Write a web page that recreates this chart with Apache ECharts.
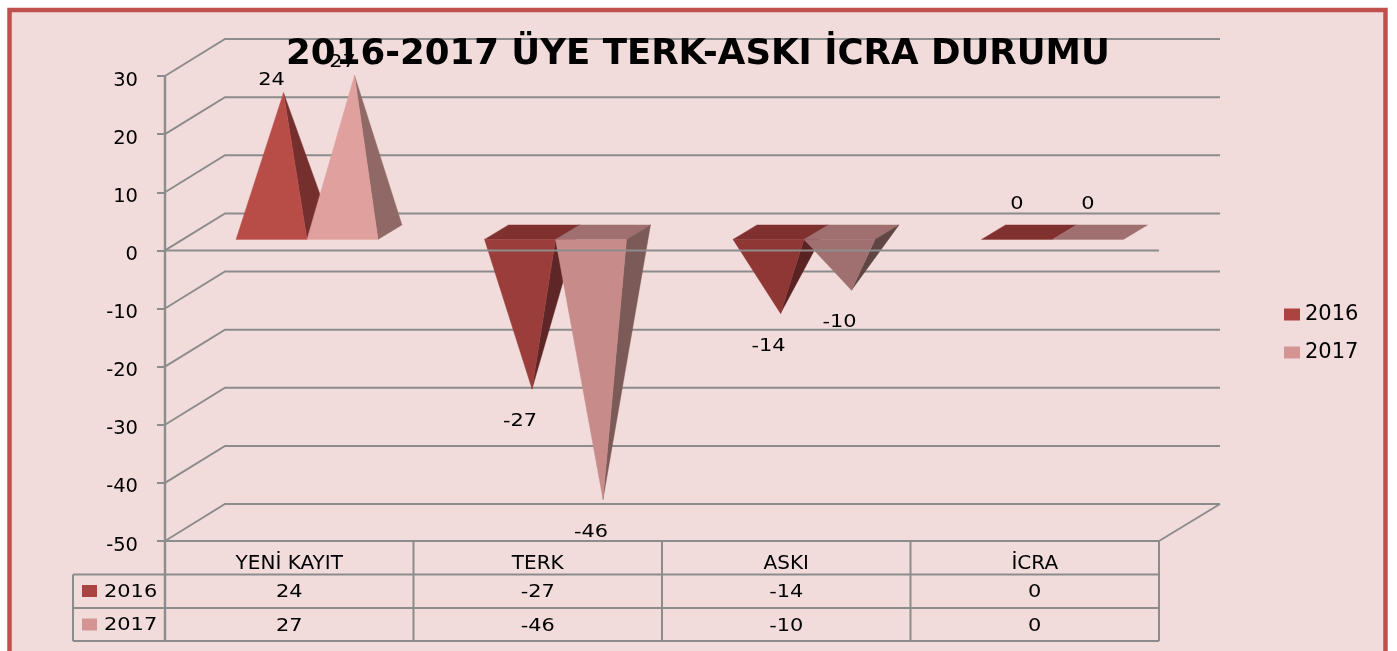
<!DOCTYPE html>
<html>
<head>
<meta charset="utf-8">
<style>html,body{margin:0;padding:0;background:#fff;overflow:hidden}#c{width:1397px;height:651px}</style>
<script src="https://cdn.jsdelivr.net/npm/echarts@6/dist/echarts.min.js"></script>
</head>
<body>
<div id="c"></div>
<script>
const titleText = '2016-2017 ÜYE TERK-ASKI İCRA DURUMU';
const categories = ['YENİ KAYIT', 'TERK', 'ASKI', 'İCRA'];
const seriesNames = ['2016', '2017'];
const values2016 = [24, -27, -14, 0];
const values2017 = [27, -46, -10, 0];
const yTicks = [30, 20, 10, 0, -10, -20, -30, -40, -50];

const legendColors = ['#AB4441', '#D49494'];
const frontColors = [
  ['#B84D48', '#9B3E3B', '#8E3735', '#80302F'],
  ['#E0A09E', '#C78C8A', '#A07070', '#A07070']
];
const sideColors = [
  ['#75302D', '#5E2626', '#5A2222', '#5A2222'],
  ['#906967', '#7C5A58', '#5F4644', '#5F4644']
];
const topColors = [
  ['#80302F', '#80302F', '#80302F', '#80302F'],
  ['#A07070', '#A07070', '#A07070', '#A07070']
];
const FONT = '"DejaVu Sans"';
const LINE = '#8C8C8C';
const WALL = { dx: 60, dy: -37 };
const PYR = { w: 71, fx: 17.75, fy: -11, dx: 24, dy: -14.5 };

const chart = echarts.init(document.getElementById('c'), null, { renderer: 'canvas' });

function line(points, width) {
  return { type: 'polyline', shape: { points }, style: { stroke: LINE, lineWidth: width || 2, fill: null } };
}
function poly(points, fill) {
  return { type: 'polygon', shape: { points }, style: { fill, stroke: fill, lineWidth: 0.4 } };
}
function label(x, y, text, size, align) {
  return { type: 'text', x, y, scaleX: 1.13, style: { x: 0, y: 0, text, fill: '#000', font: (size || 18.5) + 'px ' + FONT, align: align || 'center', verticalAlign: 'middle' } };
}

function renderWall(params, api) {
  const rect = params.coordSys;
  const t = api.value(1);
  const y = api.coord([0, t])[1];
  const L = rect.x, R = rect.x + rect.width;
  const children = [line([[L, y], [L + WALL.dx, y + WALL.dy], [R + WALL.dx + 1, y + WALL.dy]])];
  if (t === yTicks[yTicks.length - 1]) children.push(line([[R, y], [R + WALL.dx + 1, y + WALL.dy]]));
  return { type: 'group', children };
}

function renderPyramid(si) {
  return function (params, api) {
    const cat = api.value(0), val = api.value(1);
    const c0 = api.coord([cat, 0]), cv = api.coord([cat, val]);
    const x0 = c0[0] + PYR.fx + (si - 1) * PYR.w, x1 = x0 + PYR.w;
    const yf = c0[1] + PYR.fy, yb = yf + PYR.dy;
    const apex = [(x0 + x1) / 2 + PYR.dx / 2, cv[1] + PYR.fy + PYR.dy / 2];
    const children = [];
    if (val <= 0) {
      children.push(poly([[x0, yf], [x1, yf], [x1 + PYR.dx, yb], [x0 + PYR.dx, yb]], topColors[si][cat]));
    }
    if (val !== 0) {
      children.push(poly([[x1, yf], [x1 + PYR.dx, yb], apex], sideColors[si][cat]));
      children.push(poly([[x0, yf], [x1, yf], apex], frontColors[si][cat]));
    }
    const ly = val > 0 ? cv[1] - 31 : (val < 0 ? cv[1] + 14 : cv[1] - 46);
    children.push(label((x0 + x1) / 2, ly, String(val)));
    return { type: 'group', children };
  };
}

function renderFront(params, api) {
  const rect = params.coordSys;
  const L = rect.x, R = rect.x + rect.width, B = rect.y + rect.height;
  const y0 = api.coord([0, 0])[1];
  const rows = [B + 33.5, B + 67, B + 100];
  const children = [
    line([[L, y0], [R, y0]]),
    line([[L, rect.y], [L, rows[2]]], 2.4),
    line([[L, B], [R, B]]),
    line([[L - 92, rows[0]], [R, rows[0]]]),
    line([[L - 92, rows[1]], [R, rows[1]]]),
    line([[L - 92, rows[2]], [R, rows[2]]]),
    line([[L - 92, rows[0]], [L - 92, rows[2]]])
  ];
  categories.forEach(function (_, i) {
    const x = L + rect.width * (i + 1) / categories.length;
    children.push(line([[x, B], [x, rows[2]]]));
  });
  seriesNames.forEach(function (name, i) {
    const cy = rows[i] + 16.5;
    children.push({ type: 'rect', shape: { x: L - 83, y: cy - 6, width: 15, height: 12 }, style: { fill: legendColors[i] } });
    children.push(label(L - 61, cy + 1, name, 18.5, 'left'));
  });
  return { type: 'group', children };
}

function renderCell(params, api) {
  const cat = api.value(0), val = api.value(1), row = api.value(2);
  const rect = params.coordSys;
  const B = rect.y + rect.height;
  const x = api.coord([cat, 0])[0];
  return label(x, B + 51.5 + row * 34, String(val));
}

const pyramidSeries = seriesNames.map(function (name, si) {
  const vals = si === 0 ? values2016 : values2017;
  return {
    name, type: 'custom', z: 3, silent: true,
    coordinateSystem: 'cartesian2d',
    renderItem: renderPyramid(si),
    encode: { x: 0, y: 1 },
    itemStyle: { color: legendColors[si] },
    data: vals.map(function (v, i) { return [i, v]; })
  };
});
const cellData = [];
values2016.forEach(function (v, i) { cellData.push([i, v, 0]); });
values2017.forEach(function (v, i) { cellData.push([i, v, 1]); });

chart.setOption({
  animation: false,
  backgroundColor: '#fff',
  title: {
    text: titleText, left: 693, top: 32, textAlign: 'center', z: 5,
    textStyle: { fontFamily: FONT, fontWeight: 'bold', fontSize: 35.6, color: '#000' }
  },
  legend: {
    orient: 'vertical', left: 1279, top: 299, itemWidth: 16, itemHeight: 12, itemGap: 17, itemStyle: { borderWidth: 0 },
    data: seriesNames, selectedMode: false, icon: 'rect',
    textStyle: { fontFamily: FONT, fontSize: 21, color: '#000' }
  },
  graphic: [{
    type: 'rect', z: -10, silent: true,
    shape: { x: 9.5, y: 10, width: 1376, height: 700 },
    style: { fill: '#F2DCDB', stroke: '#C0504D', lineWidth: 4.5 }
  }],
  grid: { left: 165, top: 76, width: 994, height: 465 },
  xAxis: {
    type: 'category', data: categories, position: 'bottom',
    axisLine: { show: false, onZero: false }, axisTick: { show: false }, splitLine: { show: false },
    axisLabel: { color: '#000', fontFamily: FONT, fontSize: 20, margin: 13 }
  },
  yAxis: {
    type: 'value', min: -50, max: 30, interval: 10,
    axisLine: { show: false }, splitLine: { show: false },
    axisTick: { show: true, length: 8, lineStyle: { color: LINE, width: 2 } },
    axisLabel: {
      margin: 27, formatter: '{v|{value}}',
      rich: { v: { color: '#000', fontFamily: FONT, fontSize: 19.5, padding: [9, 0, 0, 0] } }
    }
  },
  series: [
    { type: 'custom', z: 1, silent: true, renderItem: renderWall, encode: { x: 0, y: 1 }, data: yTicks.map(function (t) { return [0, t]; }) }
  ].concat(pyramidSeries, [
    { type: 'custom', z: 4, silent: true, renderItem: renderFront, encode: { x: 0, y: 1 }, data: [[0, 0]] },
    { type: 'custom', z: 4, silent: true, renderItem: renderCell, encode: { x: 0, y: 1 }, data: cellData }
  ])
});
</script>
</body>
</html>
